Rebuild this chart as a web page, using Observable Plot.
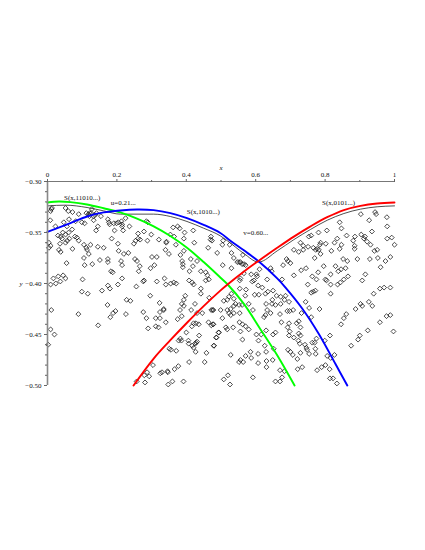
<!DOCTYPE html>
<html>
<head>
<meta charset="utf-8">
<script src="https://cdn.jsdelivr.net/npm/d3@7"></script>
<script src="https://cdn.jsdelivr.net/npm/@observablehq/plot@0.6"></script>
<style>html,body{margin:0;padding:0;background:#fff}svg{display:block}</style>
</head>
<body>
<div id="chart"></div>
<script>
// points as x, -y pairs
const pointPairs = [
.013,.326,.011,.327,.009,.329,.052,.326,.060,.329,.072,.330,.090,.332,.128,.327,.126,.331,.112,.331,.118,.332,.122,.331,.141,.331,.137,.333,.132,.334,.121,.334,.133,.338,.154,.334,.174,.337,.177,.340,.179,.342,.191,.341,.199,.341,.204,.340,.213,.339,.225,.336,.215,.342,.193,.348,.215,.344,.218,.348,.236,.344,.285,.339,.289,.340,.008,.338,.023,.344,.047,.340,.062,.337,.081,.339,.099,.340,.107,.341,.145,.344,.140,.348,.056,.344,.044,.350,.030,.353,.071,.347,.061,.350,.052,.352,.038,.354,.042,.356,.063,.356,.057,.358,.052,.360,.079,.354,.085,.355,.090,.358,.004,.360,.009,.363,.004,.365,.036,.361,.033,.367,.038,.369,.072,.366,.105,.362,.124,.362,.112,.365,.114,.367,.119,.371,.105,.375,.145,.364,.162,.365,.185,.356,.203,.361,.205,.368,.220,.371,.233,.370,.249,.361,.254,.358,.261,.356,.267,.357,.261,.351,.278,.349,.299,.352,.288,.358,.321,.357,.342,.360,.343,.359,.354,.352,.365,.354,.362,.345,.375,.344,.381,.346,.395,.350,.420,.348,.471,.354,.474,.358,.463,.365,.423,.360,.393,.356,.370,.362,.340,.367,.350,.371,.393,.368,.383,.372,.301,.374,.315,.374,.252,.376,.258,.378,.266,.383,.308,.382,.297,.385,.263,.388,.055,.380,.107,.382,.129,.381,.151,.377,.174,.376,.174,.379,.212,.378,.215,.382,.183,.388,.188,.389,.017,.395,.031,.393,.045,.392,.052,.395,.101,.396,.215,.395,.337,.395,.278,.397,.388,.378,.390,.381,.390,.384,.413,.376,.431,.378,.419,.383,.409,.388,.442,.388,.456,.389,.461,.392,.465,.396,
.903,.332,.944,.330,.947,.332,.978,.335,.927,.338,.842,.340,.847,.346,.979,.344,.805,.348,.781,.350,.935,.349,.904,.352,.915,.354,.979,.356,.992,.355,.862,.353,.886,.354,.881,.358,.835,.356,.827,.360,.847,.362,.802,.361,.787,.360,.760,.353,.753,.354,.729,.360,.737,.363,.710,.367,.724,.369,.737,.367,.751,.364,.766,.365,.777,.366,.782,.367,.785,.362,.773,.367,.787,.371,.770,.375,.818,.368,.842,.366,.885,.363,.885,.366,.912,.356,.921,.359,.931,.362,.950,.367,.942,.368,1.000,.362,.893,.376,.929,.376,.952,.375,.974,.378,.988,.374,.960,.384,.852,.376,.864,.378,.830,.383,.796,.383,.846,.386,.859,.385,.838,.388,.816,.391,.780,.389,.731,.387,.745,.385,.710,.392,.689,.376,.693,.378,.679,.382,.700,.380,.763,.393,.775,.396,.801,.396,.854,.396,.866,.393,.916,.391,.506,.358,.504,.362,.525,.362,.470,.357,.530,.370,.537,.375,.563,.372,.556,.379,.566,.381,.571,.382,.561,.381,.552,.379,.505,.382,.530,.385,.547,.379,.489,.370,.611,.386,.643,.385,.646,.388,.602,.391,.604,.393,.587,.391,.566,.390,.556,.395,.633,.396,.676,.396,
.009,.401,.024,.400,.037,.398,.099,.408,.116,.410,.157,.407,.174,.402,.180,.405,.203,.401,.256,.403,.276,.398,.315,.398,.341,.401,.355,.400,.364,.399,.371,.400,.408,.397,.417,.399,.421,.401,.442,.405,.442,.410,.456,.397,.466,.414,.296,.412,.397,.412,.393,.416,.387,.420,.425,.420,.323,.419,.228,.416,.239,.417,.173,.421,.011,.426,.089,.430,.181,.433,.189,.429,.196,.427,.226,.430,.276,.428,.285,.434,.312,.434,.324,.434,.324,.428,.335,.426,.335,.425,.382,.426,.393,.422,.414,.426,.431,.429,.446,.429,.387,.432,.375,.435,.341,.438,.312,.442,.320,.443,.290,.444,.472,.426,.476,.426,.146,.441,.009,.445,.020,.450,.002,.460,.421,.439,.428,.439,.436,.440,.416,.442,.464,.438,.472,.441,.477,.440,.400,.448,.437,.451,.493,.448,.486,.453,.383,.454,.386,.456,.378,.456,.406,.456,.407,.459,.417,.461,.421,.463,.426,.459,.431,.457,.428,.458,.427,.467,.371,.466,.356,.465,.351,.464,.458,.468,.479,.461,.408,.477,.453,.477,.377,.481,.366,.484,.346,.486,.347,.487,.330,.487,.325,.488,.304,.480,.287,.487,.279,.490,.293,.491,.257,.496,.281,.497,.348,.499,.360,.496,.392,.496,
.750,.401,.804,.397,.816,.401,.836,.401,.844,.399,.907,.397,.940,.410,.958,.405,.970,.404,.988,.404,.816,.410,.760,.409,.772,.407,.766,.408,.607,.402,.619,.404,.590,.398,.595,.397,.572,.406,.554,.397,.570,.412,.597,.411,.609,.411,.635,.408,.650,.407,.628,.410,.660,.412,.672,.413,.686,.412,.554,.405,.530,.410,.537,.415,.523,.413,.518,.416,.508,.417,.542,.420,.537,.422,.528,.425,.518,.426,.552,.421,.580,.420,.561,.421,.630,.420,.648,.416,.647,.420,.657,.421,.672,.420,.683,.416,.696,.418,.744,.418,.754,.424,.784,.425,.732,.429,.760,.433,.691,.427,.698,.427,.708,.426,.670,.430,.643,.429,.633,.426,.628,.431,.624,.433,.592,.426,.478,.426,.499,.426,.523,.429,.504,.434,.528,.431,.537,.429,.554,.429,.674,.438,.696,.439,.692,.443,.718,.439,.724,.437,.729,.443,.553,.438,.562,.440,.571,.442,.580,.445,.478,.440,.514,.443,.518,.445,.535,.443,.556,.447,.494,.448,.487,.453,.480,.461,.562,.455,.602,.450,.616,.450,.608,.456,.630,.446,.650,.450,.657,.448,.696,.451,.710,.453,.698,.447,.724,.449,.729,.451,.723,.456,.727,.459,.742,.460,.626,.461,.652,.464,.630,.467,.607,.469,.585,.467,.571,.471,.587,.473,.528,.470,.564,.477,.552,.477,.556,.475,.607,.478,.631,.476,.649,.475,.631,.482,.693,.465,.707,.470,.720,.474,.700,.467,.729,.468,.746,.463,.754,.469,.748,.465,.763,.458,.770,.458,.775,.454,.799,.456,.814,.451,.773,.469,.772,.464,.827,.470,.806,.471,.816,.473,.721,.484,.734,.482,.670,.485,.683,.486,.676,.492,.657,.496,.670,.496,.592,.492,.777,.485,.790,.482,.801,.480,.813,.484,.814,.493,.823,.493,.834,.498,.508,.494,.520,.490,.526,.499,.846,.440,.854,.434,.861,.430,.888,.425,.902,.420,.907,.422,.926,.418,.936,.422,.958,.438,.977,.432,.988,.431,.923,.446,.997,.447,.900,.451,.895,.455,.875,.461
];
const points = d3.range(0, pointPairs.length, 2).map(i => ({x: pointPairs[i], y: -pointPairs[i + 1]}));

const greenX = [0,.033,.066,.114,.162,.210,.258,.306,.354,.402,.450,.498,.518,.566,.614,.662,.712];
const greenY = [-.3206,-.3196,-.3202,-.3225,-.3262,-.3303,-.3365,-.3440,-.3535,-.3650,-.3790,-.3941,-.4005,-.4200,-.4450,-.4703,-.500];
const blueX = [0,.066,.114,.162,.210,.258,.306,.354,.402,.450,.498,.527,.566,.609,.662,.686,.734,.782,.830,.864];
const blueY = [-.3493,-.3408,-.3343,-.3303,-.3284,-.3275,-.3281,-.3310,-.3359,-.3425,-.3505,-.3580,-.3675,-.3785,-.3950,-.4040,-.4245,-.4495,-.4790,-.500];
const redX = [.248,.306,.354,.402,.450,.498,.518,.571,.609,.662,.710,.758,.806,.854,.902,.950,1];
const redY = [-.500,-.4736,-.4556,-.4385,-.4222,-.4070,-.4012,-.3870,-.3776,-.3650,-.3540,-.3440,-.3350,-.3280,-.3239,-.3216,-.3206];
const blackX = [0,.052,.114,.162,.210,.258,.306,.354,.402,.450,.498,.518,.566,.608,.662,.710,.758,.806,.854,.902,.950,1];
const blackY = [-.3239,-.3232,-.3255,-.3288,-.3320,-.3320,-.3320,-.3343,-.3392,-.3458,-.3533,-.3580,-.3706,-.3790,-.3680,-.3570,-.3470,-.3380,-.3314,-.3271,-.3248,-.3239];

const labelText = ["S(x,11010...)","u=0.21...","S(x,1010...)","S(x,0101...)","v=0.60..."];
const labelX = [.1,.218,.449,.839,.6];
const labelY = [-.3155,-.3204,-.3300,-.3204,-.3503];
const labels = labelText.map((t,i)=>({t,x:labelX[i],y:labelY[i]}));

const xTicks = [0,.2,.4,.6,.8,1];
const xMinor = [.1,.3,.5,.7,.9];
const yTicks = [-.30,-.35,-.40,-.45,-.50];
const yMinor = d3.range(-50,-29,1).map(d=>d/100);

const line = (xs,ys,stroke,strokeWidth,curve) => Plot.line(xs.map((x,i)=>[x,ys[i]]),{x:d=>d[0],y:d=>d[1],stroke,strokeWidth,curve});
const font = "'Liberation Serif'";
const fmt = d => d3.format(".2f")(d).replace("-","\u2212");
const chart = Plot.plot({
  width: 425, height: 550,
  marginLeft: 47, marginRight: 31, marginTop: 181, marginBottom: 165,
  style: {fontFamily: font, fontSize: "7px", background: "#fff"},
  x: {domain: [0,1], axis: null},
  y: {domain: [-.5,-.3], axis: null},
  marks: [
    Plot.dot(points,{x:"x",y:"y",symbol:"diamond2",r:2.2,stroke:"#111",strokeWidth:.75,fill:"none"}),
    line(blackX,blackY,"#222",.8,"monotone-x"),
    line(greenX,greenY,"#0f0",1.9,"catmull-rom"),
    line(blueX,blueY,"#00f",1.9,"catmull-rom"),
    line(redX,redY,"#f00",1.9,"catmull-rom"),
    Plot.text(labels,{x:"x",y:"y",text:"t",fontSize:7,fontFamily:font,fill:"#111"}),
    Plot.ruleY([-.3],{stroke:"#777",strokeWidth:1.2}),
    Plot.ruleX([0],{stroke:"#888",strokeWidth:1.6}),
    Plot.axisX({anchor:"top",ticks:xTicks,tickFormat:d=>String(d),tickSize:3,tickPadding:2,label:null,fontSize:7,fontFamily:font,stroke:"#666",fill:"#111"}),
    Plot.axisX({anchor:"top",ticks:xMinor,tickFormat:()=>"",tickSize:2,label:null,stroke:"#666"}),
    Plot.axisY({anchor:"left",ticks:yTicks,tickFormat:fmt,tickSize:3,tickPadding:3,label:null,fontSize:7,fontFamily:font,stroke:"#666",fill:"#111"}),
    Plot.axisY({anchor:"left",ticks:yMinor,tickFormat:()=>"",tickSize:2,label:null,stroke:"#666"}),
    Plot.text(["x"],{frameAnchor:"top",dy:-16,text:d=>d,fontStyle:"italic",fontSize:7,fontFamily:font,fill:"#111"}),
    Plot.text(["y"],{frameAnchor:"left",dx:-28,text:d=>d,fontStyle:"italic",fontSize:7,fontFamily:font,fill:"#111"})
  ]
});
document.getElementById("chart").appendChild(chart);
</script>
</body>
</html>
